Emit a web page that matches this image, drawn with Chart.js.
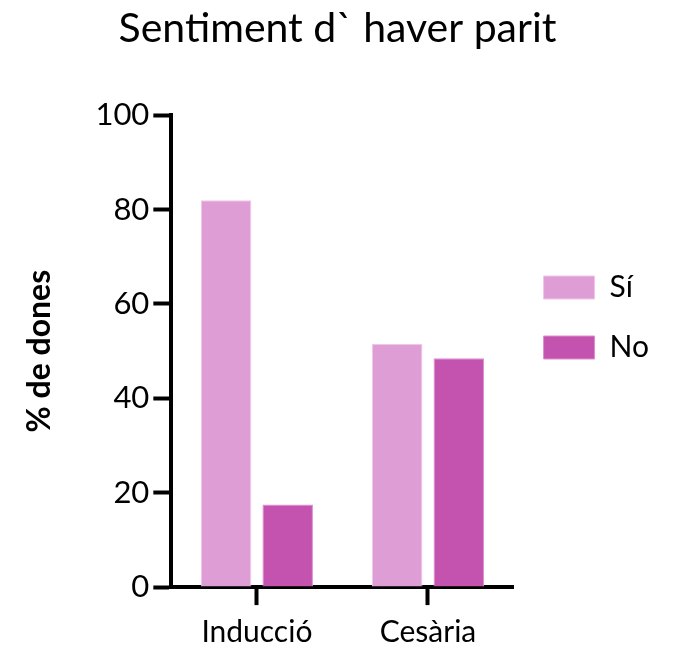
<!DOCTYPE html>
<html lang="ca">
<head>
    <meta charset="UTF-8">
    <title>Sentiment d` haver parit</title>
    <script src="https://cdn.jsdelivr.net/npm/chart.js"></script>
    <style>
        html, body { margin: 0; padding: 0; background: #fff; }
        #wrap { width: 674px; height: 646px; }
    </style>
</head>
<body>
    <div id="wrap"><canvas id="chart"></canvas></div>
    <script>
        const categories = ['Inducció', 'Cesària'];
        const seriesNames = ['Sí', 'No'];
        const valuesSi = [82, 51.5];
        const valuesNo = [17.5, 48.5];
        const yTicks = [0, 20, 40, 60, 80, 100];

        const font = 'Lato, "DejaVu Sans", sans-serif';

        // nudge the right-hand legend up a little, like the original
        const legendNudge = {
            id: 'legendNudge',
            afterLayout(chart) {
                chart.legend.top -= 12;
                chart.legend.bottom -= 12;
            }
        };

        new Chart(document.getElementById('chart').getContext('2d'), {
            type: 'bar',
            data: {
                labels: categories,
                datasets: [
                    { label: seriesNames[0], data: valuesSi, backgroundColor: '#df9dd6', borderColor: '#f0c6ea', borderWidth: 1 },
                    { label: seriesNames[1], data: valuesNo, backgroundColor: '#c453b0', borderColor: '#dc8fd0', borderWidth: 1 }
                ]
            },
            options: {
                responsive: true,
                maintainAspectRatio: false,
                animation: false,
                layout: { padding: { left: 16, right: 15, bottom: -13 } },
                datasets: { bar: { categoryPercentage: 0.72, barPercentage: 0.82 } },
                plugins: {
                    title: {
                        display: true,
                        text: 'Sentiment d` haver parit',
                        color: '#000',
                        font: { family: font, size: 41, weight: 'normal' },
                        padding: { top: 4, bottom: 62 }
                    },
                    legend: {
                        position: 'right',
                        labels: {
                            color: '#000',
                            boxWidth: 51,
                            boxHeight: 23,
                            padding: 30,
                            font: { family: font, size: 30 }
                        }
                    },
                    tooltip: { enabled: false }
                },
                scales: {
                    x: {
                        grid: { display: true, drawOnChartArea: false, offset: false, tickLength: 18, tickWidth: 4, tickColor: '#000' },
                        border: { color: '#000', width: 4 },
                        ticks: { color: '#000', padding: 13, font: { family: font, size: 30, lineHeight: 0.93 } }
                    },
                    y: {
                        min: 0,
                        max: 100,
                        afterBuildTicks: axis => { axis.ticks = yTicks.map(v => ({ value: v })); },
                        grid: { display: true, drawOnChartArea: false, tickLength: 18, tickWidth: 4, tickColor: '#000' },
                        border: { color: '#000', width: 4 },
                        ticks: { color: '#000', padding: 4, font: { family: font, size: 31 } },
                        title: {
                            display: true,
                            text: '% de dones',
                            color: '#000',
                            font: { family: font, size: 32, weight: 'bold' },
                            padding: { bottom: 33 }
                        }
                    }
                }
            },
            plugins: [legendNudge]
        });
    </script>
</body>
</html>
